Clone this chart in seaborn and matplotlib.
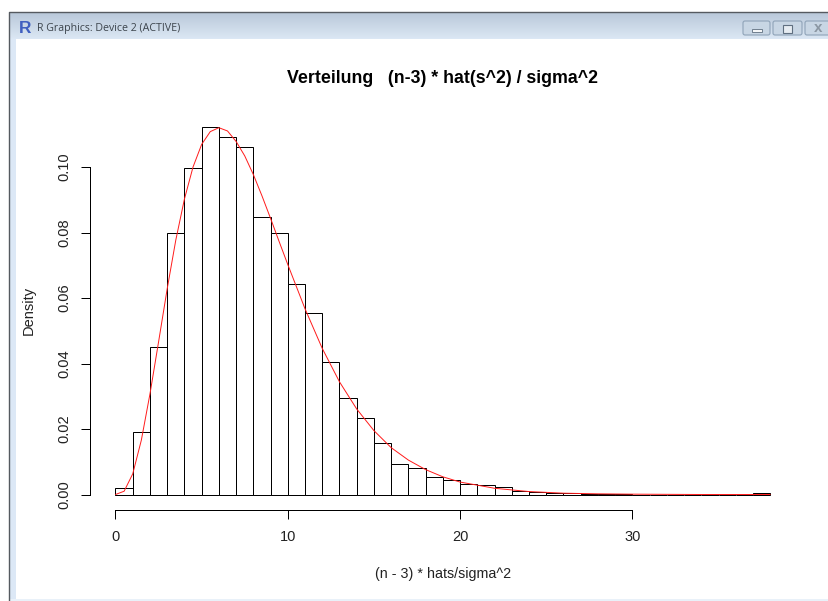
import numpy as np
import seaborn as sns
import matplotlib
matplotlib.use("Agg")
import matplotlib.pyplot as plt
from matplotlib.patches import FancyBboxPatch, Rectangle

# histogram (unit wide bins from 0 to 38)
bin_edges = list(range(0, 39))
bin_density = [0.0021, 0.0191, 0.0449, 0.0800, 0.0997, 0.1123, 0.1091, 0.1060,
               0.0848, 0.0800, 0.0642, 0.0553, 0.0405, 0.0294, 0.0233, 0.0156,
               0.0094, 0.0080, 0.0053, 0.0044, 0.0031, 0.0028, 0.0022, 0.0012,
               0.0008, 0.0005, 0.0004, 0.0002, 0.0001, 0.0001, 0.0, 0.0,
               0.0, 0.0, 0.0, 0.0, 0.0, 0.0004]

# red curve
curve_x = [0, 0.5, 1, 1.5, 2, 2.5, 3, 3.5, 4, 4.5, 5, 5.5, 6, 6.5, 7, 7.5, 8, 8.5, 9, 9.5,
           10, 11, 12, 13, 14, 15, 16, 17, 18, 19, 20, 22, 24, 26, 28, 30, 34, 38]
curve_y = [0.0, 0.0010, 0.0063, 0.0166, 0.0307, 0.0466, 0.0628, 0.0777, 0.0902,
           0.1000, 0.1069, 0.1108, 0.1120, 0.1110, 0.1078, 0.1034, 0.0977, 0.0912, 0.0843, 0.0772,
           0.0702, 0.0567, 0.0446, 0.0344, 0.0261, 0.0195, 0.0143, 0.0105, 0.0076,
           0.0054, 0.0038, 0.0019, 0.0009, 0.0004, 0.0002, 0.0001, 0.0, 0.0]

x_ticks = [0, 10, 20, 30]
y_ticks = [0.00, 0.02, 0.04, 0.06, 0.08, 0.10]

main_title = "Verteilung   (n-3) * hat(s^2) / sigma^2"
x_title = "(n - 3) * hats/sigma^2"
y_title = "Density"
window_title = "R Graphics: Device 2 (ACTIVE)"

W, H = 829, 601
sns.set_theme(style="white")
plt.rcParams["font.family"] = ["Liberation Sans", "DejaVu Sans"]

fig = plt.figure(figsize=(W / 100, H / 100), dpi=100, facecolor="white")

# window frame behind the plot, in pixels
bg = fig.add_axes([0, 0, 1, 1], zorder=0)
grad = np.linspace(0, 1, 27).reshape(-1, 1)
bg.imshow(grad, extent=(10, W, 39, 12), aspect="auto",
          cmap=matplotlib.colors.LinearSegmentedColormap.from_list("bar", ["#b9c8d9", "#dbe7f4"]))
bg.set_xlim(0, W)
bg.set_ylim(H, 0)
bg.axis("off")
bg.add_patch(Rectangle((10, 39), 6, 562, color="#dce8f6", lw=0))
bg.add_patch(Rectangle((10, 599), W - 10, 2, color="#e9f1f9", lw=0))
bg.plot([9.5, 9.5, W], [H, 12, 12], color="#555a60", lw=1)
for bx, bw in [(743, 27), (773, 29), (805, 30)]:
    bg.add_patch(FancyBboxPatch((bx, 21), bw, 14, boxstyle="round,pad=0,rounding_size=2",
                                fc="#c8d6e4", ec="#8fa3b8", lw=0.8))
bg.add_patch(Rectangle((752, 29), 10, 3, fc="#f4f6f8", ec="#5f6f80", lw=0.6))
bg.add_patch(Rectangle((783, 24.5), 9, 8, fc="#e6ecf2", ec="#5f6f80", lw=0.8))
bg.text(818, 28, "x", ha="center", va="center", fontsize=11, fontweight="bold", color="#8b97a3")
bg.text(25.5, 28.5, "R", ha="center", va="center", fontsize=12.5, fontweight="bold", color="#3f5fc0")
bg.text(37, 28.5, window_title, ha="left", va="center", fontsize=7.7, color="#3c444c", family="Open Sans")

# plot region: x=0 at 115.5 px, 17.23 px per unit; y=0 at 494.5 px, 3275 px per unit
ax = fig.add_axes([115.5 / W, 1 - 494.5 / H, 38 * 17.23 / W, 0.115 * 3275 / H], zorder=1)
ax.patch.set_alpha(0)

sns.histplot(x=bin_edges[:-1], weights=bin_density, bins=bin_edges, stat="count",
             color="white", edgecolor="black", linewidth=0.72, alpha=1, ax=ax)
sns.lineplot(x=curve_x, y=curve_y, color="#ff1a1a", linewidth=0.7, estimator=None, ax=ax)
for p in ax.patches:
    p.set_clip_on(False)
for l in ax.lines:
    l.set_clip_on(False)

ax.set_xlim(0, 38)
ax.set_ylim(0, 0.115)
ax.set_xlabel("")
ax.set_ylabel("")
sns.despine(ax=ax, top=True, right=True)
ax.spines["bottom"].set_position(("outward", 10.8))
ax.spines["left"].set_position(("outward", 18.7))
ax.spines["bottom"].set_bounds(0, 30)
ax.spines["left"].set_bounds(0, 0.10)
for s in ["bottom", "left"]:
    ax.spines[s].set_color("black")
    ax.spines[s].set_linewidth(0.72)
ax.set_xticks(x_ticks)
ax.set_yticks(y_ticks)
ax.set_yticklabels(["%.2f" % v for v in y_ticks], rotation=90, va="center")
ax.tick_params(axis="both", length=6.5, width=0.72, color="black", labelsize=10.5,
               labelcolor="#222222", bottom=True, left=True)
ax.tick_params(axis="x", pad=8)
ax.tick_params(axis="y", pad=6.5)

fig.text(443 / W, 1 - 78.5 / H, main_title, ha="center", va="center", fontsize=12.8, fontweight="bold", color="black")
fig.text(443 / W, 1 - 574 / H, x_title, ha="center", va="center", fontsize=10.3, color="#222222")
fig.text(29 / W, 1 - 310 / H, y_title, ha="center", va="center", rotation=90, fontsize=10.5, color="#222222")

fig.savefig("out.png", dpi=100)
